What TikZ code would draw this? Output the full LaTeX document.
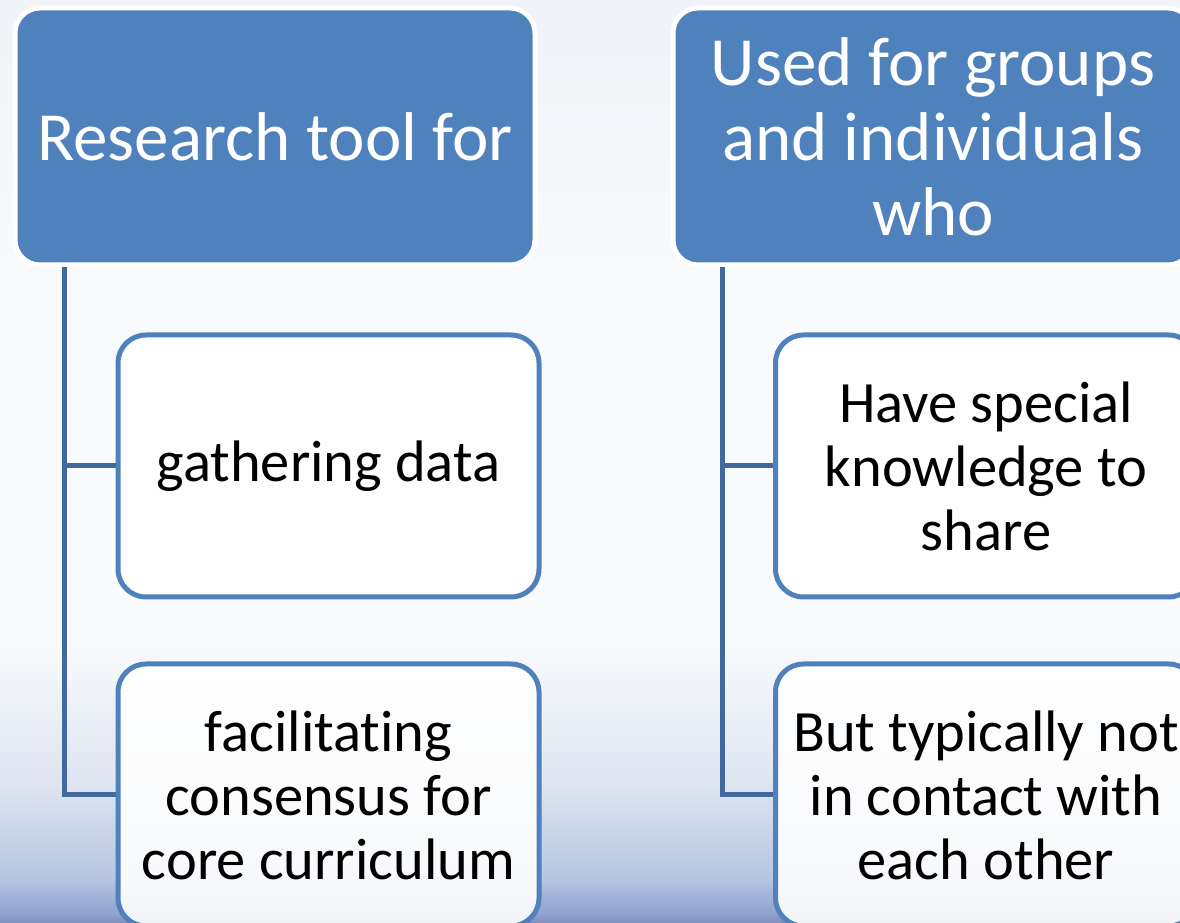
\documentclass[tikz,border=0pt]{standalone}
\usepackage{fontspec}
\setmainfont{Carlito}[Ligatures=NoCommon]
\usetikzlibrary{positioning}
\definecolor{hdrblue}{HTML}{4F81BD}
\definecolor{linkblue}{HTML}{41699C}
\definecolor{bgtop}{HTML}{F0F3F8}
\definecolor{bgpale}{HTML}{F8FAFC}
\definecolor{bgsoft}{HTML}{DEE5F1}
\definecolor{bgband}{HTML}{B5C4E1}
\definecolor{bglow}{HTML}{8FA0CB}
\definecolor{bgdeep}{HTML}{7F8EBB}
\pgfdeclareverticalshading{slidebg}{100bp}{color(0bp)=(bgdeep); color(25bp)=(bgdeep);
  color(25.45bp)=(bglow); color(27.35bp)=(bgband); color(32.5bp)=(bgsoft);
  color(40bp)=(bgpale); color(60bp)=(bgpale); color(75bp)=(bgtop); color(100bp)=(bgtop)}

\begin{document}
\begin{tikzpicture}[x=1pt, y=1pt,
  hdr/.style={draw=white, line width=5pt, fill=hdrblue, text=white, rounded corners=25pt,
    minimum width=520pt, minimum height=257pt, align=center, font=\fontsize{69}{75}\selectfont},
  leaf/.style={draw=hdrblue, line width=5pt, fill=white, fill opacity=0.9, text opacity=1,
    rounded corners=28pt, minimum width=421pt, minimum height=262pt, align=center,
    font=\fontsize{58.5}{64}\selectfont},
  trunk/.style={draw=linkblue, line width=5pt}]
  \useasboundingbox (0,0) rectangle (1180,923);
  \shade[shading=slidebg] (0,0) rectangle (1180,923);

  \node[hdr] (resA) at (275,786.5) {Research tool for};
  \node[hdr, right=133pt of resA] (resB) {Used for groups\\and individuals\\who};
  \node[leaf, below=65pt of resA, xshift=53.5pt] (gather) {gathering data};
  \node[leaf, below=62pt of gather] (consens) {facilitating\\consensus for\\core curriculum};
  \node[leaf, below=65pt of resB, xshift=53pt] (share) {Have special\\knowledge to\\share};
  \node[leaf, below=62pt of share] (apart) {But typically not\\in contact with\\each other};

  \draw[trunk] ([xshift=52pt]resA.south west) |- (gather.west)
    ([xshift=52pt]resA.south west) |- (consens.west);
  \draw[trunk] ([xshift=52pt]resB.south west) |- (share.west)
    ([xshift=52pt]resB.south west) |- (apart.west);
\end{tikzpicture}
\end{document}
